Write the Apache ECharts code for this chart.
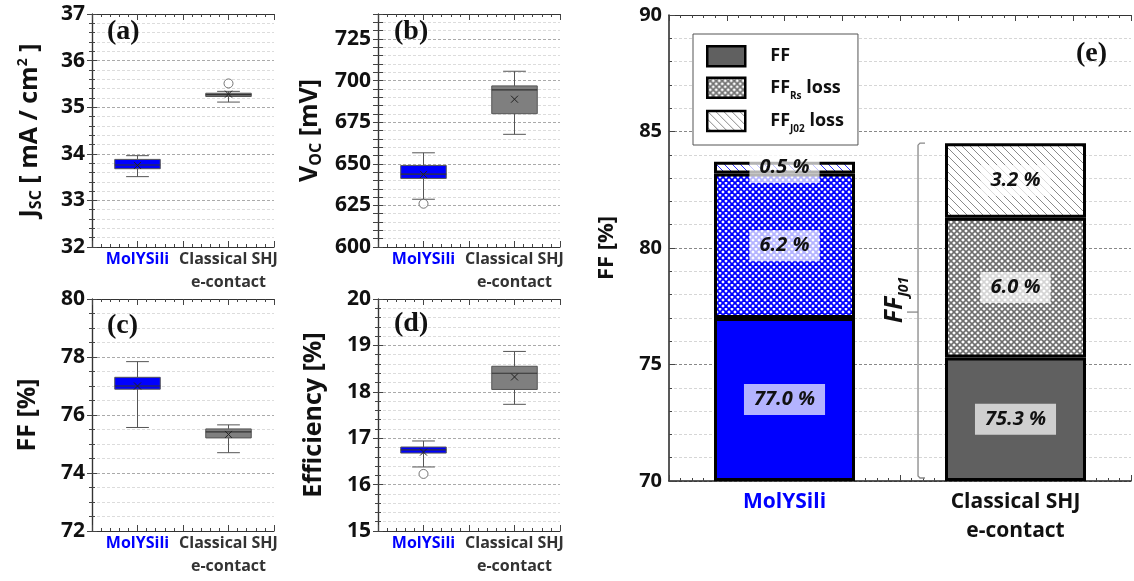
<!DOCTYPE html>
<html>
<head>
<meta charset="utf-8">
<script src="https://cdn.jsdelivr.net/npm/echarts@6/dist/echarts.min.js"></script>
<style>
  html, body { margin: 0; padding: 0; background: #fff; }
  #chart { width: 1134px; height: 581px; }
</style>
</head>
<body>
<div id="chart"></div>
<script>
// 数据：箱线图 (a)-(d)，每组 [min, q1, median, q3, max]
const boxCategories = ['MolYSili', 'Classical SHJ\ne-contact']

const jscStats = [[33.51, 33.68, 33.76, 33.88, 33.96], [35.11, 35.23, 35.27, 35.30, 35.34]]
const jscMeans = [33.75, 35.28]
const jscOutliers = [[1, 35.51]]

const vocStats = [[628.7, 641.2, 643.8, 649.0, 656.6], [667.7, 680.1, 694.4, 696.8, 705.6]]
const vocMeans = [643.6, 688.8]
const vocOutliers = [[0, 626.0]]

const ffStats = [[75.57, 76.89, 77.0, 77.30, 77.84], [74.70, 75.21, 75.42, 75.52, 75.66]]
const ffMeans = [77.0, 75.33]
const ffOutliers = []

const effStats = [[16.38, 16.68, 16.75, 16.81, 16.94], [17.73, 18.05, 18.40, 18.55, 18.87]]
const effMeans = [16.70, 18.32]
const effOutliers = [[0, 16.23]]

// 数据：堆叠柱 (e)
const barCategories = ['MolYSili', 'Classical SHJ\ne-contact']
const ffValues = [77.0, 75.3]
const rsLoss = [6.2, 6.0]
const j02Loss = [0.5, 3.2]
const ffAxisMin = 70

const FONT = '"Open Sans", Lato, sans-serif'
const SERIF = '"Liberation Serif", "DejaVu Serif", serif'
const labelColors = ['#0000ff', '#333']
const boxFills = ['#0000ff', '#7f7f7f']

// 填充图案
function hatch(color, cross, size, width) {
  const c = document.createElement('canvas')
  c.width = c.height = size
  const g = c.getContext('2d')
  g.fillStyle = '#fff'
  g.fillRect(0, 0, size, size)
  g.strokeStyle = color
  g.lineWidth = width
  const seg = (x0, y0, x1, y1) => { g.beginPath(); g.moveTo(x0, y0); g.lineTo(x1, y1); g.stroke() }
  seg(-1, -1, size + 1, size + 1)
  seg(-1, size - 1, 1, size + 1)
  seg(size - 1, -1, size + 1, 1)
  if (cross) {
    seg(-1, size + 1, size + 1, -1)
    seg(-1, 1, 1, -1)
    seg(size - 1, size + 1, size + 1, size - 1)
  }
  return { image: c, repeat: 'repeat' }
}

const ffFills = ['#0000ff', '#606060']
const rsFills = [hatch('#0000ff', true, 6, 1.8), hatch('#6e6e6e', true, 6, 1.6)]
const j02Fills = [hatch('#3030ff', false, 8, 1), hatch('#8a8a8a', false, 8, 1)]

const nameRich = {
  b: { fontSize: 25, fontWeight: 'bold', fontFamily: FONT, color: '#111', lineHeight: 28 },
  s: { fontSize: 16, fontWeight: 'bold', fontFamily: FONT, color: '#111', lineHeight: 18, verticalAlign: 'bottom' },
  p: { fontSize: 14, fontWeight: 'bold', fontFamily: FONT, color: '#111', lineHeight: 14, verticalAlign: 'top' }
}

const panels = [
  { stats: jscStats, means: jscMeans, outliers: jscOutliers, min: 32, max: 37, interval: 1, minor: 5,
    name: '{b|J}{s|SC}{b| [ mA / cm}{p|2}{b| ]}', gap: 48, grid: { left: 92, top: 14, width: 182, height: 233 } },
  { stats: vocStats, means: vocMeans, outliers: vocOutliers, min: 600, max: 740, interval: 5, minor: 0, every: 25,
    name: '{b|V}{s|OC}{b| [mV]}', gap: 54, grid: { left: 378, top: 14, width: 182, height: 233 } },
  { stats: ffStats, means: ffMeans, outliers: ffOutliers, min: 72, max: 80, interval: 2, minor: 4,
    name: '{b|FF [%]}', gap: 50, grid: { left: 92, top: 299, width: 182, height: 232 } },
  { stats: effStats, means: effMeans, outliers: effOutliers, min: 15, max: 20, interval: 1, minor: 5,
    name: '{b|Efficiency [%]}', gap: 50, grid: { left: 378, top: 299, width: 182, height: 232 } }
]

function boxItem(params, api) {
  const k = api.value(0)
  const band = api.size([1, 0])[0]
  const hw = band * 0.25
  const cw = band * 0.125
  const P = j => api.coord([k, api.value(j)])
  const lo = P(1), q1 = P(2), md = P(3), q3 = P(4), hi = P(5), mn = P(6)
  const x = lo[0]
  const ln = (x1, y1, x2, y2, c, w) => ({
    type: 'line', shape: { x1, y1, x2, y2 }, style: { stroke: c || '#555', lineWidth: w || 1 }
  })
  const m = 3.5
  return {
    type: 'group',
    children: [
      ln(x, hi[1], x, q3[1]),
      ln(x, q1[1], x, lo[1]),
      ln(x - cw, hi[1], x + cw, hi[1]),
      ln(x - cw, lo[1], x + cw, lo[1]),
      { type: 'rect', shape: { x: x - hw, y: q3[1], width: 2 * hw, height: q1[1] - q3[1] },
        style: { fill: boxFills[k], stroke: '#555', lineWidth: 1 } },
      ln(x - hw, md[1], x + hw, md[1], '#333', 1.2),
      ln(x - m, mn[1] - m, x + m, mn[1] + m, '#222', 1),
      ln(x - m, mn[1] + m, x + m, mn[1] - m, '#222', 1)
    ]
  }
}

const grids = []
const xAxes = []
const yAxes = []
const series = []

function tickAxis(gridIndex, position, max, showLine) {
  return {
    type: 'value', gridIndex, position, min: 0, max, interval: 0.5,
    axisLine: { show: showLine, lineStyle: { color: '#333', width: 1.2 } },
    axisTick: { show: true, inside: true, length: 6, lineStyle: { color: '#444' } },
    minorTick: { show: true, splitNumber: 5, length: 3, lineStyle: { color: '#444' } },
    axisLabel: { show: false }, splitLine: { show: false }
  }
}

panels.forEach((p, i) => {
  grids.push(p.grid)
  xAxes.push({
    type: 'category', gridIndex: i, data: boxCategories, position: 'bottom',
    axisLine: { show: true, lineStyle: { color: '#333', width: 1.2 } },
    axisTick: { show: false },
    axisLabel: {
      interval: 0, hideOverlap: false,
      fontSize: 16, fontWeight: 'bold', fontFamily: FONT, lineHeight: 23, margin: 1,
      color: (v, idx) => labelColors[idx]
    }
  })
  xAxes.push(tickAxis(i, 'top', 2, true))
  xAxes.push(tickAxis(i, 'bottom', 2, false))
  const yBase = {
    type: 'value', gridIndex: i, min: p.min, max: p.max, interval: p.interval
  }
  yAxes.push(Object.assign({}, yBase, {
    position: 'left',
    axisLine: { show: true, lineStyle: { color: '#333', width: 1.2 } },
    axisTick: { show: true, inside: true, length: 5, lineStyle: { color: '#444' } },
    minorTick: { show: p.minor > 0, splitNumber: p.minor || 5, length: 3, lineStyle: { color: '#444' } },
    axisLabel: {
      fontSize: 21, fontWeight: 'bold', fontFamily: FONT, color: '#111', margin: 7,
      formatter: v => (p.every ? (v % p.every === 0 ? v : '') : v)
    },
    splitLine: { show: true, lineStyle: {
      color: p.every ? ['#aaa', '#dcdcdc', '#dcdcdc', '#dcdcdc', '#dcdcdc'] : '#aaa', type: [3, 2] } },
    minorSplitLine: { show: p.minor > 0, lineStyle: { color: '#dcdcdc', type: [3, 2] } },
    name: p.name, nameLocation: 'middle', nameGap: p.gap, nameRotate: 90,
    nameTextStyle: { rich: nameRich }
  }))
  yAxes.push(Object.assign({}, yBase, {
    position: 'right',
    axisLine: { show: true, lineStyle: { color: '#333', width: 1.2 } },
    axisTick: { show: true, inside: true, length: 5, lineStyle: { color: '#444' } },
    minorTick: { show: p.minor > 0, splitNumber: p.minor || 5, length: 3, lineStyle: { color: '#444' } },
    axisLabel: { show: false }, splitLine: { show: false }
  }))
  series.push({
    type: 'custom', xAxisIndex: 3 * i, yAxisIndex: 2 * i, clip: false, z: 3,
    renderItem: boxItem,
    encode: { x: 0, y: [1, 2, 3, 4, 5] },
    data: p.stats.map((s, k) => [k].concat(s, [p.means[k]]))
  })
  series.push({
    type: 'scatter', xAxisIndex: 3 * i, yAxisIndex: 2 * i, z: 4,
    symbol: 'circle', symbolSize: 9,
    itemStyle: { color: '#fff', borderColor: '#555', borderWidth: 1 },
    data: p.outliers
  })
})

// (e) 堆叠柱
const E = 4
const barAxisCats = ['', barCategories[0], '', barCategories[1], '']
const barPos = [1, 3]
grids.push({ left: 669, top: 15, width: 470, height: 466 })
xAxes.push({
  type: 'category', gridIndex: E, data: barAxisCats, boundaryGap: false, position: 'bottom',
  axisLine: { show: true, lineStyle: { color: '#222', width: 1.5 } },
  axisTick: { show: false },
  axisLabel: {
    interval: 0, fontSize: 21, fontWeight: 'bold', fontFamily: FONT, lineHeight: 29, margin: 7,
    color: v => (v === barCategories[0] ? '#0000ff' : '#111')
  }
})
xAxes.push(tickAxis(E, 'top', 4, true))
xAxes.push(tickAxis(E, 'bottom', 4, false))
yAxes.push({
  type: 'value', gridIndex: E, min: ffAxisMin, max: 90, interval: 5, startValue: ffAxisMin,
  axisLine: { show: true, lineStyle: { color: '#222', width: 1.5 } },
  axisTick: { show: true, inside: true, length: 6, lineStyle: { color: '#444' } },
  minorTick: { show: true, splitNumber: 5, length: 3, lineStyle: { color: '#444' } },
  axisLabel: { fontSize: 20, fontWeight: 'bold', fontFamily: FONT, color: '#111', margin: 7 },
  splitLine: { show: true, lineStyle: { color: '#888', type: [3, 2] } },
  minorSplitLine: { show: true, lineStyle: { color: '#d6d6d6', type: [3, 2] } },
  name: '{b|FF [%]}', nameLocation: 'middle', nameGap: 48, nameRotate: 90,
  nameTextStyle: { rich: { b: Object.assign({}, nameRich.b, { fontSize: 22 }) } }
})

const barLabel = {
  show: true, position: 'inside',
  formatter: p => p.value.toFixed(1) + ' %',
  fontSize: 20, fontWeight: 'bold', fontStyle: 'italic', fontFamily: FONT, color: '#111',
  backgroundColor: 'rgba(255,255,255,0.7)', padding: [6, 10, 5, 10]
}

function stackSeries(name, values, fills) {
  const data = barAxisCats.map(() => '-')
  barPos.forEach((pos, k) => {
    data[pos] = { value: values[k], itemStyle: { color: fills[k] } }
  })
  return {
    name, type: 'bar', stack: 'ff', xAxisIndex: 3 * E, yAxisIndex: 2 * E,
    barWidth: 141, clip: true,
    itemStyle: { color: fills[1], borderColor: '#000', borderWidth: 3 },
    label: barLabel,
    data
  }
}
series.push(stackSeries('FF', ffValues, ffFills))
series.push(stackSeries('FF_Rs loss', rsLoss, rsFills))
series.push(stackSeries('FF_J02 loss', j02Loss, j02Fills))

// FF_J01 括号
const refTotal = ffValues[1] + rsLoss[1] + j02Loss[1]
series.push({
  type: 'custom', xAxisIndex: 3 * E, yAxisIndex: 2 * E, clip: false, z: 5,
  data: [[barPos[1], ffAxisMin, refTotal]],
  renderItem: (params, api) => {
    const top = api.coord([api.value(0), api.value(2)])
    const bot = api.coord([api.value(0), api.value(1)])
    const band = api.size([1, 0])[0]
    const x = top[0] - band * 0.844
    const yMid = (top[1] + bot[1]) / 2
    return {
      type: 'group',
      children: [
        { type: 'polyline', shape: { points: [[x + 7, top[1]], [x + 2, top[1]], [x, top[1] + 2],
          [x, bot[1] - 5], [x + 2, bot[1] - 3], [x + 7, bot[1] - 3]] },
          style: { stroke: '#888', lineWidth: 1.3, fill: null } },
        { type: 'line', shape: { x1: x, y1: yMid, x2: x - 11, y2: yMid }, style: { stroke: '#888', lineWidth: 1.3 } },
        { type: 'text', x: x - 23, y: yMid - 12, rotation: Math.PI / 2,
          style: {
            text: '{b|FF}{s|J01}', align: 'center', verticalAlign: 'middle',
            rich: {
              b: { fontSize: 25, fontWeight: 'bold', fontStyle: 'italic', fontFamily: FONT, fill: '#111', lineHeight: 32 },
              s: { fontSize: 14, fontWeight: 'bold', fontStyle: 'italic', fontFamily: FONT, fill: '#111', lineHeight: 16, verticalAlign: 'bottom' }
            }
          } }
      ]
    }
  }
})

const legendNames = {
  'FF': '{sp|}{b|FF}',
  'FF_Rs loss': '{sp|}{b|FF}{s|Rs}{b| loss}',
  'FF_J02 loss': '{sp|}{b|FF}{s|J02}{b| loss}'
}

const tags = [
  { t: '(a)', x: 107, y: 33 }, { t: '(b)', x: 394, y: 33 },
  { t: '(c)', x: 107, y: 327 }, { t: '(d)', x: 394, y: 325 },
  { t: '(e)', x: 1076, y: 55 }
]

const chart = echarts.init(document.getElementById('chart'))
chart.setOption({
  backgroundColor: '#fff',
  animation: false,
  textStyle: { fontFamily: FONT },
  grid: grids,
  xAxis: xAxes,
  yAxis: yAxes,
  legend: {
    left: 693, top: 34, orient: 'vertical', padding: [11, 14, 11, 13],
    itemWidth: 38, itemHeight: 20, itemGap: 9, icon: 'rect', selectedMode: false,
    backgroundColor: '#fff', borderColor: '#555', borderWidth: 1,
    itemStyle: { borderColor: '#000', borderWidth: 2.5 },
    data: ['FF', 'FF_Rs loss', 'FF_J02 loss'],
    formatter: n => legendNames[n],
    textStyle: {
      rich: {
        sp: { width: 20 },
        b: { fontSize: 18, fontWeight: 'bold', fontFamily: FONT, color: '#111', lineHeight: 26 },
        s: { fontSize: 10, fontWeight: 'bold', fontFamily: FONT, color: '#111', lineHeight: 12, verticalAlign: 'bottom' }
      }
    }
  },
  graphic: tags.map(g => ({
    type: 'text', left: g.x, top: g.y - 15, z: 10,
    style: { text: g.t, font: 'bold 28px ' + SERIF, fill: '#111' }
  })),
  series
})
</script>
</body>
</html>
